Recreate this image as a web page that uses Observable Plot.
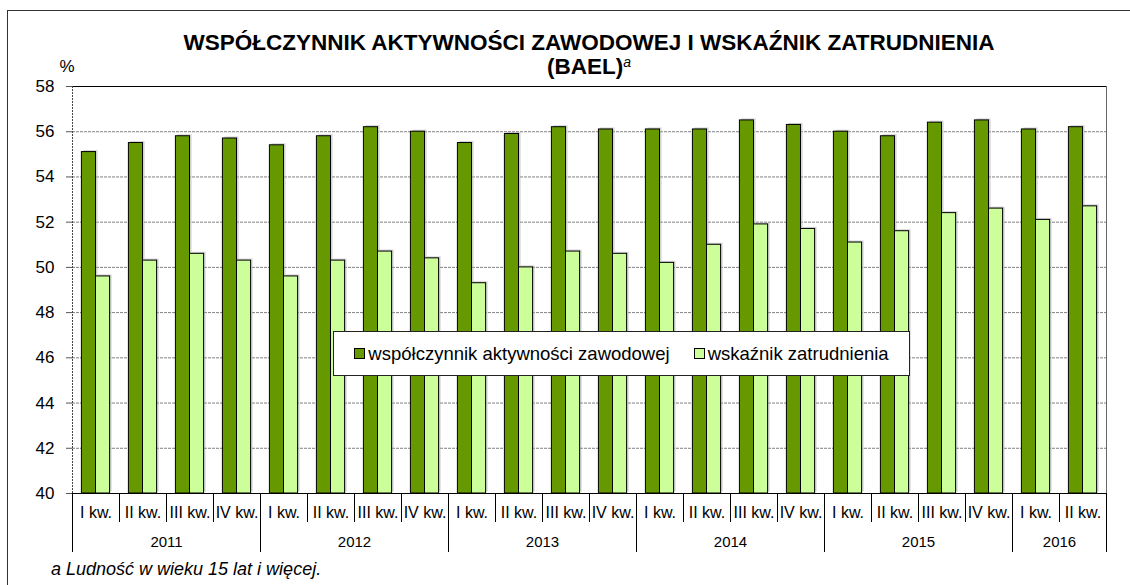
<!DOCTYPE html>
<html>
<head>
<meta charset="utf-8">
<script src="https://cdn.jsdelivr.net/npm/d3@7"></script>
<script src="https://cdn.jsdelivr.net/npm/@observablehq/plot@0.6"></script>
<style>
  html, body { margin: 0; padding: 0; background: #fff; }
  #wrap { position: relative; width: 1130px; height: 585px; overflow: hidden; font-family: "Liberation Sans", Arial, sans-serif; color: #000; }
  #frame { position: absolute; left: 7px; top: 10px; width: 1200px; height: 700px; border-left: 1px solid #333; border-top: 1px solid #333; }
  #chart { position: absolute; left: 0; top: 0; }
  #title { position: absolute; left: 72px; width: 1034px; top: 31px; text-align: center; font-weight: bold; font-size: 22.5px; line-height: 24px; }
  #title sup { font-style: italic; font-weight: normal; font-size: 14px; vertical-align: 0; position: relative; top: -7px; }
  #legend { position: absolute; left: 333px; top: 331px; width: 575px; height: 43px; background: #fff; border: 1px solid #222; display: flex; align-items: center; justify-content: center; gap: 0; font-size: 18.5px; }
  #legend .item { display: flex; align-items: center; margin: 0 12px; }
  #legend .sw { width: 9px; height: 9px; border: 1px solid #000; margin-right: 3px; }
  #note { position: absolute; left: 51px; top: 559px; font-style: italic; font-size: 18px; }
</style>
</head>
<body>
<div id="wrap">
  <div id="frame"></div>
  <div id="chart"></div>
  <div id="title">WSPÓŁCZYNNIK AKTYWNOŚCI ZAWODOWEJ I WSKAŹNIK ZATRUDNIENIA<br>(BAEL)<sup>a</sup></div>
  <div id="legend"></div>
  <div id="note">a Ludność w wieku 15 lat i więcej.</div>
</div>
<script>
// ---- data ----
const years = ["2011", "2012", "2013", "2014", "2015", "2016"];
const quartersPerYear = [4, 4, 4, 4, 4, 2];
const quarterLabels = [
  "I kw.", "II kw.", "III kw.", "IV kw.",
  "I kw.", "II kw.", "III kw.", "IV kw.",
  "I kw.", "II kw.", "III kw.", "IV kw.",
  "I kw.", "II kw.", "III kw.", "IV kw.",
  "I kw.", "II kw.", "III kw.", "IV kw.",
  "I kw.", "II kw."
];
const activity = [
  55.1, 55.5, 55.8, 55.7,
  55.4, 55.8, 56.2, 56.0,
  55.5, 55.9, 56.2, 56.1,
  56.1, 56.1, 56.5, 56.3,
  56.0, 55.8, 56.4, 56.5,
  56.1, 56.2
];
const employment = [
  49.6, 50.3, 50.6, 50.3,
  49.6, 50.3, 50.7, 50.4,
  49.3, 50.0, 50.7, 50.6,
  50.2, 51.0, 51.9, 51.7,
  51.1, 51.6, 52.4, 52.6,
  52.1, 52.7
];
const yTicks = [40, 42, 44, 46, 48, 50, 52, 54, 56, 58];
const seriesNames = ["współczynnik aktywności zawodowej", "wskaźnik zatrudnienia"];
const seriesColors = ["#669900", "#ccff99"];

// ---- derived ----
const n = quarterLabels.length;
const idx = d3.range(n);
const quarterBounds = d3.range(n + 1).map(i => i - 0.5);
let acc = 0;
const yearBounds = [-0.5];
const yearCenters = [];
quartersPerYear.forEach(q => { yearCenters.push(acc + (q - 1) / 2); acc += q; yearBounds.push(acc - 0.5); });
const yearByCenter = new Map(yearCenters.map((c, i) => [c, years[i]]));
const bw = 0.3;

const chart = Plot.plot({
  width: 1130,
  height: 585,
  marginLeft: 72,
  marginRight: 24,
  marginTop: 86,
  marginBottom: 92,
  style: { fontFamily: "'Liberation Sans', Arial, sans-serif", background: "transparent", color: "#000" },
  x: { domain: [-0.5, n - 0.5] },
  y: { domain: [40, 58] },
  marks: [
    Plot.ruleY(yTicks.filter(d => d > 40 && d < 58), { stroke: "#808080", strokeDasharray: "3,1" }),
    Plot.rect(idx, { x1: i => i - bw, x2: i => i + bw, y1: 40, y2: i => activity[i], fill: "#aaa", fillOpacity: 0.5, dx: 2, dy: -1.5, insetRight: 14 }),
    Plot.rect(idx, { x1: i => i, x2: i => i + bw, y1: 40, y2: i => employment[i], fill: "#aaa", fillOpacity: 0.5, dx: 2, dy: -1.5 }),
    Plot.rect(idx, { x1: i => i - bw, x2: i => i, y1: 40, y2: i => activity[i], fill: seriesColors[0], stroke: "#000", strokeWidth: 1 }),
    Plot.rect(idx, { x1: i => i, x2: i => i + bw, y1: 40, y2: i => employment[i], fill: seriesColors[1], stroke: "#000", strokeWidth: 1 }),
    Plot.ruleY([58], { stroke: "#000" }),
    Plot.ruleY([40], { stroke: "#000" }),
    Plot.ruleX([n - 0.5], { stroke: "#666" }),
    Plot.ruleX([-0.5], { stroke: "#444", strokeDasharray: "2,1" }),
    Plot.axisY(yTicks, { tickSize: 6, tickPadding: 12, fontSize: 17, label: null, stroke: "#555" }),
    Plot.axisX(quarterBounds, { tickSize: 29, tickFormat: () => "", label: null, stroke: "#000" }),
    Plot.axisX(yearBounds, { tickSize: 59, tickFormat: () => "", label: null, stroke: "#000" }),
    Plot.axisX(idx, { tickSize: 0, tickPadding: 13, tickFormat: i => quarterLabels[i], fontSize: 16, label: null }),
    Plot.axisX(yearCenters, { tickSize: 0, tickPadding: 43, tickFormat: d => yearByCenter.get(d), fontSize: 15, label: null }),
    Plot.text(["%"], { frameAnchor: "top-left", dx: -13, dy: -27, fontSize: 17 })
  ]
});
document.getElementById("chart").appendChild(chart);

const legend = document.getElementById("legend");
seriesNames.forEach((name, i) => {
  const it = document.createElement("div");
  it.className = "item";
  const sw = document.createElement("div");
  sw.className = "sw";
  sw.style.background = seriesColors[i];
  const tx = document.createElement("span");
  tx.textContent = name;
  it.appendChild(sw); it.appendChild(tx);
  legend.appendChild(it);
});
</script>
</body>
</html>
